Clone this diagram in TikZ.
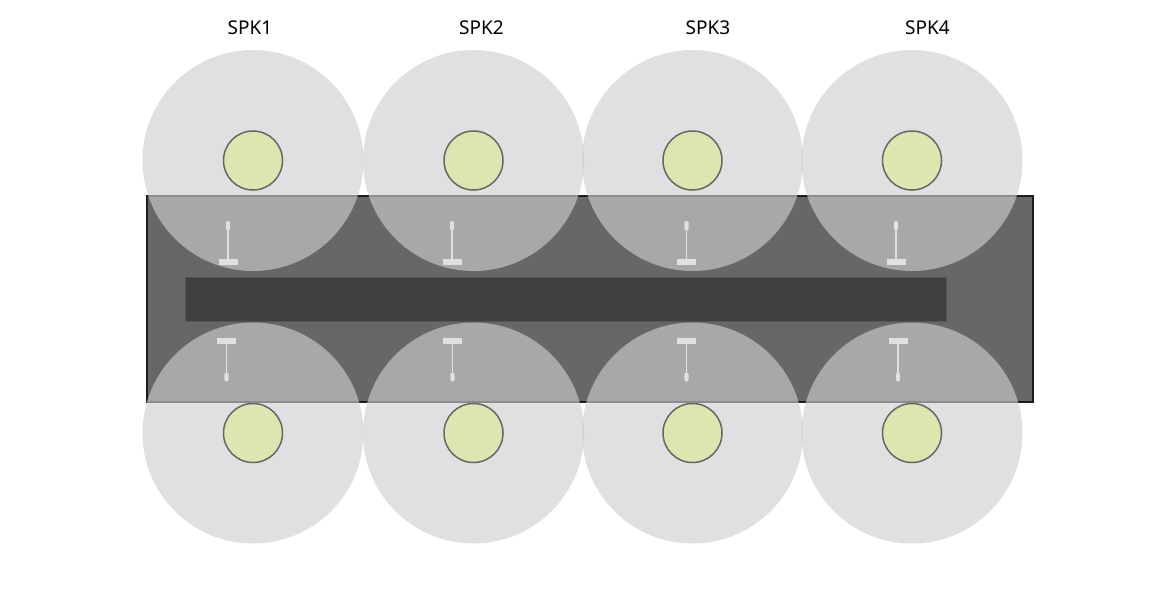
\documentclass[tikz,border=0pt]{standalone}
\usepackage{fontspec}
\setmainfont{Noto Sans}
\usepackage{tikz}

\definecolor{roomgray}{HTML}{666766}
\definecolor{roomedge}{HTML}{1C1C1C}
\definecolor{tablegray}{HTML}{404040}
\definecolor{tableedge}{HTML}{555555}
\definecolor{zonegray}{HTML}{CDCED1}
\definecolor{capgreen}{HTML}{DCE6B1}
\definecolor{capedge}{HTML}{666764}
\definecolor{micgray}{HTML}{DFE0E2}

\begin{document}
\begin{tikzpicture}[
		room-floor/.style={fill=roomgray, draw=roomedge, line width=2pt},
		room-table/.style={fill=tablegray, draw=tableedge, line width=1pt},
		spk-zone/.style={fill=zonegray, fill opacity=0.64},
		spk-cap/.style={fill=capgreen, draw=capedge, line width=1.5pt},
		mic-part/.style={fill=micgray},
		mic-stem/.style={draw=micgray, line width=1.3pt},
		spk-label/.style={font=\fontsize{19}{23}\selectfont, text=black, inner sep=0pt},
		]

		\def\zoner{110.5pt}
		\def\capr{29.5pt}
		\def\uppery{-160.5pt}
		\def\lowery{-433pt}
		\def\zone{circle (\zoner)}
		\def\cap{circle (\capr)}
		% stand pointing up from its base, stand pointing down from its base
		\newcommand\micup[1]{
			\draw[mic-stem] (#1pt,-226pt) -- (#1pt,-260pt);
			\fill[mic-part,rounded corners=1.5pt] (#1pt-2.2pt,-221pt) rectangle (#1pt+2.2pt,-230.5pt);
			\fill[mic-part] (#1pt-9.5pt,-259pt) rectangle (#1pt+9.5pt,-265pt);
		}
		\newcommand\micdown[1]{
			\draw[mic-stem] (#1pt,-343pt) -- (#1pt,-376pt);
			\fill[mic-part,rounded corners=1.5pt] (#1pt-2.2pt,-372.5pt) rectangle (#1pt+2.2pt,-381.5pt);
			\fill[mic-part] (#1pt-9.5pt,-338pt) rectangle (#1pt+9.5pt,-344pt);
		}

		\useasboundingbox (0pt,0pt) rectangle (1164pt,-595pt);

		% room and table
		\draw[room-floor] (147pt,-196pt) rectangle (1033pt,-402pt);
		\draw[room-table] (185pt,-277pt) rectangle (946pt,-321pt);

		% speaker zones
		\fill[spk-zone] (253pt,\uppery)   \zone;
		\fill[spk-zone] (473.5pt,\uppery) \zone;
		\fill[spk-zone] (692.5pt,\uppery) \zone;
		\fill[spk-zone] (912pt,\uppery)   \zone;

		\fill[spk-zone] (253pt,\lowery)   \zone;
		\fill[spk-zone] (473.5pt,\lowery) \zone;
		\fill[spk-zone] (692.5pt,\lowery) \zone;
		\fill[spk-zone] (912pt,\lowery)   \zone;

		% speakers
		\draw[spk-cap] (253pt,\uppery)   \cap;
		\draw[spk-cap] (473.5pt,\uppery) \cap;
		\draw[spk-cap] (692.5pt,\uppery) \cap;
		\draw[spk-cap] (912pt,\uppery)   \cap;

		\draw[spk-cap] (253pt,\lowery)   \cap;
		\draw[spk-cap] (473.5pt,\lowery) \cap;
		\draw[spk-cap] (692.5pt,\lowery) \cap;
		\draw[spk-cap] (912pt,\lowery)   \cap;

		% microphones
		\micup{228}
		\micup{452}
		\micup{686.5}
		\micup{896}

		\micdown{226.5}
		\micdown{452.5}
		\micdown{686.5}
		\micdown{898}

		% labels
		\node[spk-label] (spk1) at (250pt,-28pt) {SPK1};
		\node[spk-label] (spk2) at (481.5pt,-28pt) {SPK2};
		\node[spk-label] (spk3) at (708pt,-28pt) {SPK3};
		\node[spk-label] (spk4) at (927.5pt,-28pt) {SPK4};

	\end{tikzpicture}
\end{document}
